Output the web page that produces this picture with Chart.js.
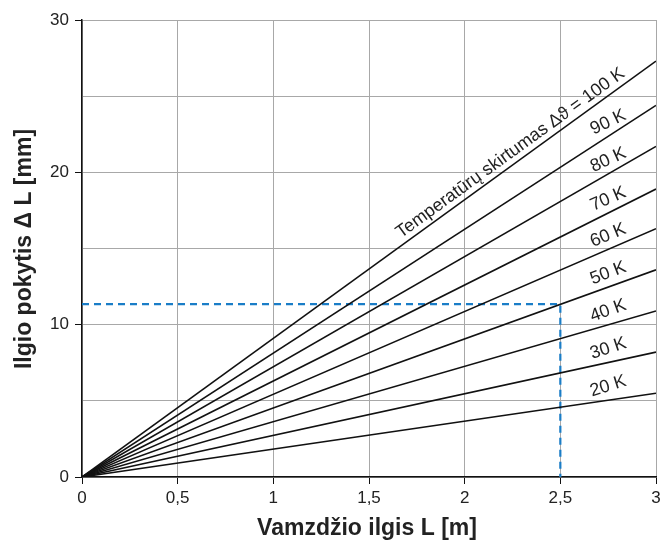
<!DOCTYPE html>
<html>
<head>
<meta charset="utf-8">
<script src="https://cdn.jsdelivr.net/npm/chart.js@4.4.1/dist/chart.umd.min.js"></script>
<style>
  body { margin: 0; background: #fff; }
  #wrap { width: 661px; height: 540px; }
</style>
</head>
<body>
<div id="wrap"><canvas id="chart"></canvas></div>
<script>
// Datos
const tempDiffs = [100, 90, 80, 70, 60, 50, 40, 30, 20];      // K
const pipeLengths = [0, 3];                                    // m
const elongationAt3m = [27.3, 24.4, 21.7, 18.9, 16.3, 13.6, 10.9, 8.2, 5.5]; // mm
const xTickValues = [0, 0.5, 1, 1.5, 2, 2.5, 3];
const yTickLabels = [0, 10, 20, 30];
const exampleLength = 2.5;
const exampleElongation = 11.35;

const FONT = '"Liberation Sans", Arial, sans-serif';

// Una serie por diferencia de temperatura
const lineSets = tempDiffs.map((k, i) => ({
    label: k + ' K',
    data: [
        { x: pipeLengths[0], y: 0 },
        { x: pipeLengths[1], y: elongationAt3m[i] }
    ],
    borderColor: '#111',
    borderWidth: 1.6,
    pointRadius: 0,
    fill: false
}));

const exampleSet = {
    label: 'ejemplo',
    data: [
        { x: 0, y: exampleElongation },
        { x: exampleLength, y: exampleElongation },
        { x: exampleLength, y: 0 }
    ],
    borderColor: '#1a7dc7',
    borderWidth: 2.2,
    borderDash: [7, 5],
    pointRadius: 0,
    fill: false
};

// Etiquetas sobre las líneas y títulos de ejes
const annotate = {
    id: 'annotate',
    afterDatasetsDraw(chart) {
        const ctx = chart.ctx;
        const xs = chart.scales.x, ys = chart.scales.y;
        ctx.save();
        ctx.fillStyle = '#222';
        ctx.font = '18px ' + FONT;

        tempDiffs.forEach((k, i) => {
            const x0 = xs.getPixelForValue(0), y0 = ys.getPixelForValue(0);
            const x3 = xs.getPixelForValue(3), y3 = ys.getPixelForValue(elongationAt3m[i]);
            const lineAngle = Math.atan2(y0 - y3, x3 - x0);
            if (k === 100) {
                const lx = 2.86;
                const px = xs.getPixelForValue(lx);
                const py = ys.getPixelForValue(elongationAt3m[i] * lx / 3);
                ctx.save();
                ctx.translate(px, py);
                ctx.rotate(-lineAngle);
                ctx.textAlign = 'right';
                ctx.textBaseline = 'alphabetic';
                ctx.fillText('Temperatūrų skirtumas Δϑ = 100 K', 0, -6);
                ctx.restore();
            } else {
                const lx = 2.75;
                const px = xs.getPixelForValue(lx);
                const py = ys.getPixelForValue(elongationAt3m[i] * lx / 3) - 14;
                const ang = (14.5 + (lineAngle * 180 / Math.PI) / 3) * Math.PI / 180;
                ctx.save();
                ctx.translate(px, py);
                ctx.rotate(-ang);
                ctx.textAlign = 'center';
                ctx.textBaseline = 'middle';
                ctx.fillText(k + ' K', 0, 0);
                ctx.restore();
            }
        });

        // Títulos
        ctx.fillStyle = '#222';
        ctx.font = 'bold 23px ' + FONT;
        ctx.textAlign = 'center';
        ctx.textBaseline = 'alphabetic';
        ctx.fillText('Vamzdžio ilgis L [m]', 367, 535);
        ctx.save();
        ctx.translate(31, 249);
        ctx.rotate(-Math.PI / 2);
        ctx.fillText('Ilgio pokytis Δ L [mm]', 0, 0);
        ctx.restore();
        ctx.restore();
    }
};

new Chart(document.getElementById('chart'), {
    type: 'line',
    data: { datasets: [...lineSets, exampleSet] },
    options: {
        responsive: true,
        maintainAspectRatio: false,
        animation: false,
        layout: { padding: { top: 20, right: 0, left: 0, bottom: 0 } },
        plugins: {
            legend: { display: false },
            tooltip: { enabled: false }
        },
        scales: {
            x: {
                type: 'linear',
                min: 0,
                max: 3,
                afterFit(scale) {
                    scale.height = 63;
                    scale.paddingRight = 5;
                },
                afterBuildTicks(scale) { scale.ticks = xTickValues.map(v => ({ value: v })); },
                ticks: {
                    color: '#222',
                    font: { family: FONT, size: 17 },
                    padding: 4,
                    maxRotation: 0,
                    callback: v => String(v).replace('.', ',')
                },
                grid: {
                    color: '#a8a8a8',
                    lineWidth: 1,
                    tickLength: 7,
                    tickColor: '#111',
                    drawTicks: true
                },
                border: { color: '#111', width: 1.5 }
            },
            y: {
                type: 'linear',
                min: 0,
                max: 30,
                afterFit(scale) { scale.width = 82; },
                ticks: {
                    stepSize: 5,
                    color: '#222',
                    font: { family: FONT, size: 17 },
                    padding: 6,
                    callback: v => yTickLabels.includes(v) ? String(v) : ''
                },
                grid: {
                    color: '#a8a8a8',
                    lineWidth: 1,
                    tickLength: 7,
                    tickColor: c => yTickLabels.includes(c.tick.value) ? '#111' : 'rgba(0,0,0,0)'
                },
                border: { color: '#111', width: 1.5 }
            }
        }
    },
    plugins: [annotate]
});
</script>
</body>
</html>
